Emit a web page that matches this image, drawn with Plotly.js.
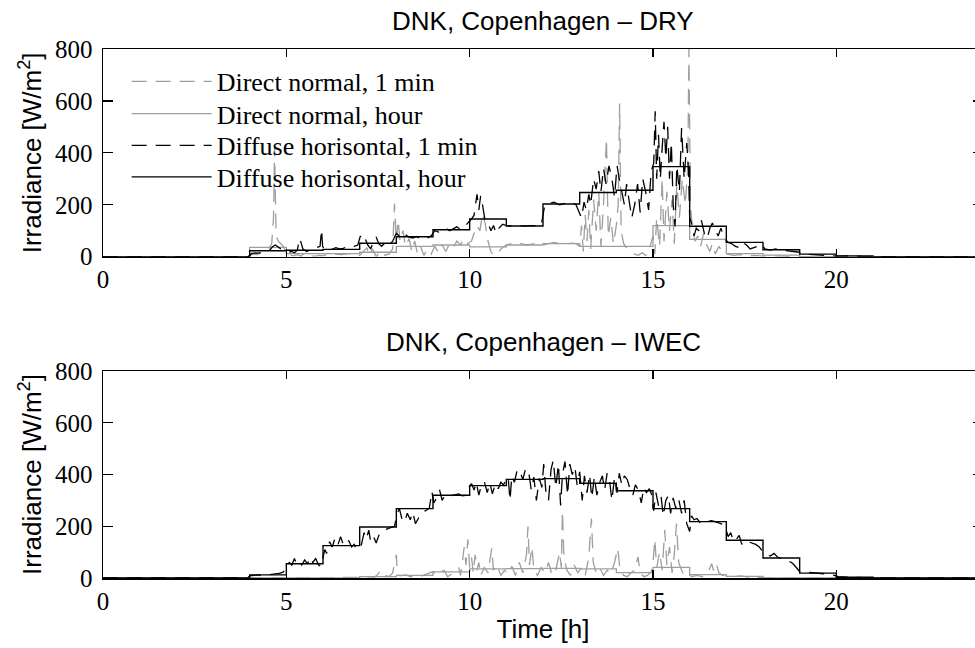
<!DOCTYPE html>
<html><head><meta charset="utf-8">
<script src="https://cdn.plot.ly/plotly-3.0.1.min.js"></script>
<style>
html,body{margin:0;padding:0;overflow:hidden;background:#fff}
#chart{width:1000px;height:648px}
#chart .xtick text, #chart .ytick text, #chart .x2tick text, #chart .y2tick text, #chart .legendtext{font-family:"Liberation Serif","Times New Roman",serif !important}
</style>
</head><body><div id="chart"></div><script>
// ---------- data ----------
const hours = [0,1,2,3,4,5,6,7,8,9,10,11,12,13,14,15,16,17,18,19,20,21,22,23];

// DRY, hourly values (W/m2) for the hour starting at hours[i]
const dryDirectHour  = [0,0,0,0,36,12,12,17,40,45,38,45,50,40,40,120,67,12,6,0,0,0,0,0];
const dryDiffuseHour = [0,0,0,0,23,25,28,52,77,104,145,118,203,247,256,347,117,55,27,10,3,0,0,0];

// IWEC, hourly values
const iwecDirectHour  = [0,0,0,0,0,0,0,5,10,24,35,36,37,35,21,41,13,6,0,0,0,0,0,0];
const iwecDiffuseHour = [0,0,0,0,12,55,125,197,268,320,357,381,384,366,337,268,218,146,77,19,3,0,0,0];

// DRY, 1-minute direct normal (time in h, value)
const dryDirectMinT = [0,3.95,4.00,4.10,4.20,4.30,4.40,4.50,4.60,4.65,4.68,4.72,4.78,4.85,4.92,5.00,5.10,5.20,5.30,5.40,5.50,5.60,5.70,5.80,5.90,6.00,6.10,6.20,6.30,6.50,6.70,6.90,7.00,7.10,7.20,7.25,7.35,7.45,7.55,7.65,7.80,7.90,7.95,8.00,8.05,8.10,8.18,8.25,8.35,8.42,8.50,8.58,8.66,8.75,8.85,8.95,9.05,9.15,9.25,9.35,9.45,9.55,9.65,9.75,9.85,9.95,10.05,10.12,10.20,10.28,10.35,10.42,10.50,10.58,10.65,10.75,10.85,11.00,11.10,11.25,11.40,11.55,11.70,11.85,12.00,12.15,12.30,12.45,12.60,12.75,12.90,13.00,13.05,13.10,13.15,13.20,13.25,13.30,13.38,13.45,13.52,13.58,13.65,13.73,13.78,13.85,13.92,14.00,14.05,14.09,14.13,14.20,14.30,14.40,14.50,14.60,14.70,14.80,14.90,15.00,15.05,15.10,15.18,15.25,15.30,15.38,15.45,15.52,15.58,15.65,15.72,15.80,15.88,15.95,15.98,16.02,16.08,16.15,16.22,16.30,16.38,16.45,16.55,16.62,16.70,16.80,16.90,17.00,17.20,17.40,17.60,17.80,18.00,18.30,18.60,19.00,24];
const dryDirectMinV = [0,0,5,10,8,15,20,25,50,150,420,80,60,50,40,10,5,3,8,2,15,5,3,2,5,3,8,5,10,8,12,10,5,20,35,5,30,0,20,5,10,30,205,60,140,60,100,40,70,20,60,10,40,5,30,10,40,15,45,20,50,35,60,45,70,50,60,90,120,100,165,130,60,20,5,10,30,45,50,55,50,45,48,50,45,50,55,50,48,52,50,40,120,20,160,60,180,30,220,100,250,40,200,455,80,150,50,120,200,590,100,50,30,20,10,5,15,5,30,80,10,150,40,300,60,250,100,220,50,280,150,300,200,350,800,200,100,60,80,40,90,50,20,50,10,40,15,10,5,8,3,5,2,3,1,0,0];

// DRY, 1-minute diffuse horizontal
const dryDiffuseMinT = [0,3.95,4.00,4.05,4.15,4.25,4.35,4.45,4.55,4.62,4.70,4.78,4.85,4.92,5.00,5.08,5.15,5.22,5.30,5.36,5.40,5.45,5.55,5.65,5.75,5.85,5.92,5.96,5.99,6.05,6.15,6.25,6.35,6.45,6.55,6.65,6.75,6.85,6.95,7.02,7.08,7.15,7.22,7.30,7.38,7.45,7.52,7.60,7.70,7.80,7.90,8.00,8.08,8.15,8.25,8.35,8.45,8.55,8.65,8.75,8.85,8.95,9.05,9.15,9.25,9.35,9.45,9.55,9.65,9.75,9.85,9.95,10.05,10.12,10.20,10.25,10.30,10.35,10.42,10.50,10.58,10.65,10.72,10.80,10.90,11.00,11.10,11.20,11.35,11.50,11.65,11.80,11.95,12.05,12.15,12.30,12.45,12.60,12.75,12.90,13.00,13.05,13.12,13.18,13.25,13.30,13.38,13.45,13.52,13.58,13.65,13.72,13.80,13.88,13.95,14.02,14.08,14.15,14.22,14.28,14.35,14.42,14.50,14.58,14.65,14.72,14.80,14.88,14.95,15.02,15.06,15.10,15.15,15.20,15.25,15.30,15.35,15.40,15.45,15.50,15.55,15.60,15.65,15.72,15.78,15.85,15.92,15.97,16.00,16.05,16.12,16.18,16.25,16.32,16.40,16.48,16.55,16.62,16.70,16.78,16.85,16.95,17.05,17.15,17.25,17.35,17.45,17.55,17.65,17.75,17.85,17.95,18.05,18.20,18.35,18.50,18.65,18.80,18.95,19.10,19.30,19.50,19.70,19.90,20.10,20.40,20.70,21.00,24];
const dryDiffuseMinV = [0,0,5,12,15,14,18,20,25,38,45,35,30,25,22,18,20,15,25,70,55,30,20,25,30,35,40,105,40,25,30,28,35,30,32,38,35,40,45,80,60,70,45,30,60,76,50,40,55,45,60,90,80,70,85,75,72,78,70,75,72,80,100,95,105,110,100,108,115,105,112,130,145,160,240,180,235,200,140,130,100,120,90,110,125,120,118,122,120,118,120,119,120,200,205,210,200,205,210,200,170,150,210,180,240,200,300,260,330,250,340,280,350,300,230,350,300,250,200,280,220,150,200,280,170,300,250,180,330,360,560,300,470,300,420,520,380,500,300,440,200,116,350,250,496,300,438,330,150,130,80,110,100,140,90,70,110,130,100,80,110,70,55,50,40,35,55,45,30,35,40,50,30,25,30,25,22,20,18,10,8,5,4,3,2,3,1,0,0];

// IWEC, 1-minute direct normal
const iwecDirectMinT = [0,6.90,7.00,7.20,7.40,7.50,7.55,7.60,7.70,7.80,7.90,8.00,8.03,8.10,8.25,8.40,8.55,8.70,8.85,9.00,9.10,9.20,9.30,9.40,9.50,9.60,9.70,9.75,9.80,9.85,9.90,9.95,10.00,10.05,10.10,10.15,10.20,10.25,10.30,10.40,10.50,10.60,10.65,10.75,10.85,10.95,11.05,11.15,11.25,11.35,11.45,11.55,11.59,11.63,11.70,11.75,11.85,11.95,12.05,12.15,12.25,12.35,12.45,12.50,12.53,12.57,12.65,12.75,12.85,12.95,13.05,13.15,13.25,13.32,13.37,13.45,13.55,13.65,13.75,13.85,13.95,14.04,14.10,14.20,14.30,14.40,14.50,14.59,14.65,14.75,14.85,14.95,15.00,15.05,15.10,15.18,15.25,15.32,15.38,15.45,15.52,15.58,15.64,15.70,15.78,15.85,15.95,16.05,16.20,16.35,16.50,16.60,16.65,16.72,16.80,16.90,17.00,17.10,17.20,17.40,17.60,17.80,18.00,24];
const iwecDirectMinV = [0,0,2,5,3,15,25,8,10,5,20,90,15,8,12,5,10,8,15,25,10,20,30,5,15,25,40,10,60,120,50,150,40,80,20,90,30,60,10,40,20,115,30,50,10,30,15,45,10,60,20,90,200,50,120,30,10,40,20,60,10,30,100,40,260,80,30,10,50,20,40,10,80,230,60,20,40,10,30,15,60,115,30,10,5,20,30,82,20,5,10,25,60,150,40,100,30,185,50,120,20,90,210,60,30,10,20,5,10,5,20,55,30,58,20,10,15,12,5,8,3,2,0,0];

// IWEC, 1-minute diffuse horizontal
const iwecDiffuseMinT = [0,3.95,4.00,4.10,4.20,4.30,4.40,4.50,4.60,4.70,4.80,4.90,4.97,5.00,5.08,5.15,5.22,5.28,5.35,5.42,5.50,5.58,5.65,5.72,5.80,5.88,5.95,6.00,6.05,6.10,6.18,6.25,6.32,6.40,6.48,6.55,6.62,6.70,6.78,6.85,6.92,7.00,7.05,7.12,7.18,7.25,7.30,7.38,7.45,7.55,7.65,7.75,7.85,7.95,8.02,8.08,8.15,8.22,8.30,8.38,8.45,8.52,8.60,8.70,8.80,8.90,8.97,9.02,9.10,9.18,9.25,9.32,9.40,9.50,9.60,9.70,9.80,9.90,10.00,10.05,10.12,10.18,10.25,10.32,10.40,10.48,10.55,10.62,10.70,10.78,10.85,10.92,11.00,11.05,11.10,11.15,11.22,11.30,11.38,11.45,11.52,11.60,11.68,11.75,11.82,11.90,11.97,12.02,12.08,12.15,12.22,12.28,12.35,12.42,12.48,12.53,12.60,12.67,12.73,12.80,12.87,12.93,13.00,13.07,13.13,13.20,13.27,13.33,13.40,13.47,13.55,13.62,13.68,13.75,13.82,13.88,13.95,14.02,14.08,14.15,14.22,14.30,14.38,14.45,14.52,14.60,14.68,14.75,14.82,14.90,14.97,15.02,15.08,15.15,15.22,15.28,15.35,15.42,15.48,15.55,15.62,15.70,15.78,15.85,15.92,16.00,16.05,16.12,16.20,16.28,16.35,16.42,16.50,16.58,16.65,16.75,16.85,16.95,17.05,17.12,17.20,17.28,17.35,17.42,17.50,17.60,17.70,17.80,17.90,18.00,18.10,18.20,18.30,18.40,18.50,18.60,18.70,18.78,18.85,18.92,19.00,19.20,19.40,19.60,19.80,19.95,20.05,20.30,20.60,21.00,24];
const iwecDiffuseMinV = [0,0,8,10,12,11,13,12,14,15,18,22,30,45,60,50,75,55,65,50,70,55,80,60,75,50,45,80,110,95,140,120,150,125,160,130,125,145,120,130,110,115,130,175,150,185,140,160,135,175,180,190,195,200,245,270,230,215,250,225,255,210,230,255,260,270,335,290,310,340,300,320,315,318,322,325,318,320,355,365,340,370,320,360,372,330,368,325,365,345,370,360,380,390,300,395,370,420,410,380,420,420,340,390,300,385,350,440,330,300,420,455,350,440,280,400,450,320,440,400,430,360,410,300,395,330,400,310,390,320,370,395,340,405,370,300,390,330,405,360,395,380,340,320,360,340,290,350,330,345,320,260,330,280,315,240,300,320,250,310,270,305,250,300,210,180,240,225,230,215,225,220,218,222,220,215,210,205,160,175,140,150,165,130,145,140,135,130,120,100,90,85,95,80,75,70,65,60,50,40,25,22,20,18,15,10,5,3,2,0,0];

const legendNames = ['Direct normal, 1 min','Direct normal, hour','Diffuse horisontal, 1 min','Diffuse horisontal, hour'];
const subplotTitles = ['DNK, Copenhagen \u2013 DRY','DNK, Copenhagen \u2013 IWEC'];
const xTicks = [0,5,10,15,20];
const yTicks = [0,200,400,600,800];

// ---------- build ----------
const GRAY = 'rgb(158,158,158)', BLACK = 'rgb(0,0,0)';
const stairX = h => h.concat([24]);
const stairY = v => v.concat([v[v.length-1]]);
const DASH = '15px,9px';
const legendIds = ['legend','legend2','legend3','legend4'];

function group(ax, ay, dirT, dirV, dirH, difT, difV, difH, show){
  const styles = [
    {t:dirT, v:dirV, line:{color:GRAY, width:1.3, dash:DASH}},
    {t:stairX(hours), v:stairY(dirH), line:{color:GRAY, width:1.3, shape:'hv'}},
    {t:difT, v:difV, line:{color:BLACK, width:1.3, dash:DASH}},
    {t:stairX(hours), v:stairY(difH), line:{color:BLACK, width:1.4, shape:'hv'}}
  ];
  return styles.map((s,i) => ({x:s.t, y:s.v, xaxis:ax, yaxis:ay, type:'scatter', mode:'lines',
    name:legendNames[i], showlegend:show, legend:legendIds[i], line:s.line, hoverinfo:'skip'}));
}

const traces = group('x','y', dryDirectMinT, dryDirectMinV, dryDirectHour, dryDiffuseMinT, dryDiffuseMinV, dryDiffuseHour, true)
  .concat(group('x2','y2', iwecDirectMinT, iwecDirectMinV, iwecDirectHour, iwecDiffuseMinT, iwecDiffuseMinV, iwecDiffuseHour, false));

const SERIF = '"Liberation Serif", "Times New Roman", serif';
const SANS = '"Liberation Sans", Arial, sans-serif';

function xax(anchor, title){
  const a = {anchor: anchor, domain:[0,1], range:[0,24], tickvals: xTicks, ticktext: xTicks.map(String),
    ticks:'inside', ticklen:8, tickwidth:1.2, tickcolor:'#000', showline:true, linecolor:'#000', linewidth:1.5,
    mirror:'ticks', showgrid:false, zeroline:false, tickfont:{family:SERIF, size:25, color:'#000'}, fixedrange:true};
  if (title) a.title = {text:title, font:{family:SANS, size:26, color:'#000'}, standoff:6};
  return a;
}
function yax(anchor, domain){
  return {anchor: anchor, domain: domain, range:[0,800], tickvals: yTicks, ticktext: yTicks.map(String),
    ticks:'inside', ticklen:10, tickwidth:1.2, tickcolor:'#000', showline:true, linecolor:'#000', linewidth:1.5,
    mirror:'ticks', showgrid:false, zeroline:false, tickfont:{family:SERIF, size:25, color:'#000'},
    ticklabelstandoff:4, fixedrange:true,
    title:{text:'Irradiance [W/m<sup>2</sup>]', font:{family:SANS, size:26, color:'#000'}, standoff:6}};
}

function leg(y){
  return {x:0.0269, y:y, xanchor:'left', yanchor:'top', bgcolor:'rgba(0,0,0,0)', borderwidth:0,
    font:{family:SERIF, size:26, color:'#000'}, itemwidth:80};
}

const layout = {
  width:1000, height:648,
  margin:{l:103, r:17, t:49, b:70, pad:0},
  font:{family:SERIF, size:25, color:'#000'},
  paper_bgcolor:'#fff', plot_bgcolor:'#fff',
  showlegend:true,
  legend: leg(0.9832), legend2: leg(0.9221), legend3: leg(0.8622), legend4: leg(0.8025),
  xaxis: xax('y', null),
  yaxis: yax('x', [0.6074,1]),
  xaxis2: xax('y2', 'Time [h]'),
  yaxis2: yax('x2', [0,0.3913]),
  annotations:[
    {text: subplotTitles[0], xref:'paper', yref:'paper', x:0.5, y:1.0535, xanchor:'center', yanchor:'middle', showarrow:false,
     font:{family:SANS, size:26, color:'#000'}},
    {text: subplotTitles[1], xref:'paper', yref:'paper', x:0.5, y:0.4461, xanchor:'center', yanchor:'middle', showarrow:false,
     font:{family:SANS, size:26, color:'#000'}}
  ]
};

Plotly.newPlot('chart', traces, layout, {displayModeBar:false, staticPlot:true});
</script></body></html>
